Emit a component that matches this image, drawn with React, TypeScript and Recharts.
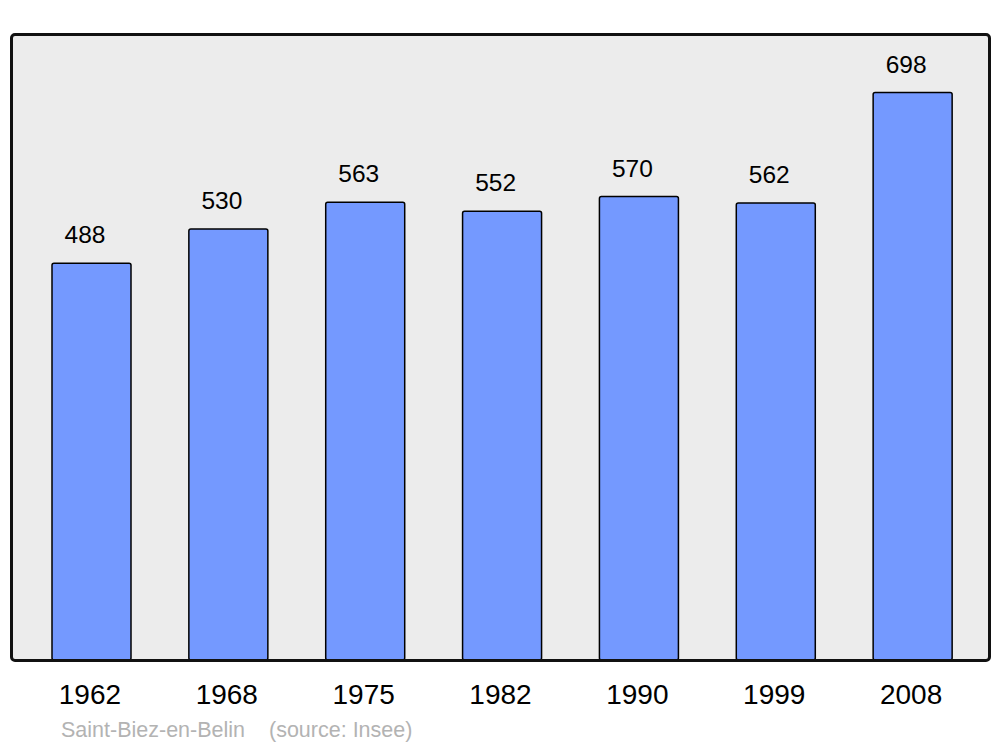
import { BarChart, Bar, XAxis, YAxis, LabelList } from "recharts";

const years = ["1962", "1968", "1975", "1982", "1990", "1999", "2008"];
const population = [488, 530, 563, 552, 570, 562, 698];
const yDomain = [0, 770];

const chartData = years.map((year, i) => ({ year, population: population[i] }));

const FONT = '"Liberation Sans", Arial, sans-serif';

function YearTick(props: any) {
  const { x, y, payload } = props;
  return (
    <text
      x={x - 1.5}
      y={y + 44}
      textAnchor="middle"
      fontSize={28}
      fontFamily={FONT}
      fill="#000"
    >
      {payload.value}
    </text>
  );
}

function ValueLabel(props: any) {
  const { x, y, width, value } = props;
  return (
    <text
      x={x + width / 2 - 6.5}
      y={y - 20}
      textAnchor="middle"
      fontSize={24.5}
      fontFamily={FONT}
      fill="#000"
    >
      {value}
    </text>
  );
}

export default function App() {
  return (
    <div
      style={{
        position: "absolute",
        left: 0,
        top: 0,
        width: 1000,
        height: 747,
        background: "white",
      }}
    >
      {/* plot background */}
      <div
        style={{
          position: "absolute",
          left: 11,
          top: 34,
          width: 978,
          height: 626,
          background: "#ececec",
          borderRadius: 4,
        }}
      />
      <div style={{ position: "absolute", left: 0, top: 0 }}>
        <BarChart
          width={1000}
          height={747}
          data={chartData}
          margin={{ top: 34, right: 11, bottom: 37, left: 11 }}
        >
          <XAxis
            dataKey="year"
            height={50}
            axisLine={false}
            tickLine={false}
            tickSize={0}
            tickMargin={0}
            padding={{ left: 12, right: 8 }}
            tick={<YearTick />}
            interval={0}
          />
          <YAxis hide domain={yDomain} width={0} />
          <Bar
            dataKey="population"
            barSize={79}
            fill="#7499ff"
            stroke="#000"
            strokeWidth={1.5}
            radius={2}
            isAnimationActive={false}
          >
            <LabelList dataKey="population" content={<ValueLabel />} />
          </Bar>
        </BarChart>
      </div>
      {/* frame */}
      <div
        style={{
          position: "absolute",
          left: 9.5,
          top: 32.5,
          width: 981,
          height: 629,
          border: "3px solid #111",
          borderRadius: 5,
          boxSizing: "border-box",
          pointerEvents: "none",
        }}
      />
      <svg
        width={1000}
        height={747}
        style={{ position: "absolute", left: 0, top: 0, pointerEvents: "none" }}
      >
        <text x={61} y={737} fontSize={21.5} fontFamily={FONT} fill="#b3b3b3">
          Saint-Biez-en-Belin
        </text>
        <text x={269} y={737} fontSize={21.5} fontFamily={FONT} fill="#b3b3b3">
          (source: Insee)
        </text>
      </svg>
    </div>
  );
}
